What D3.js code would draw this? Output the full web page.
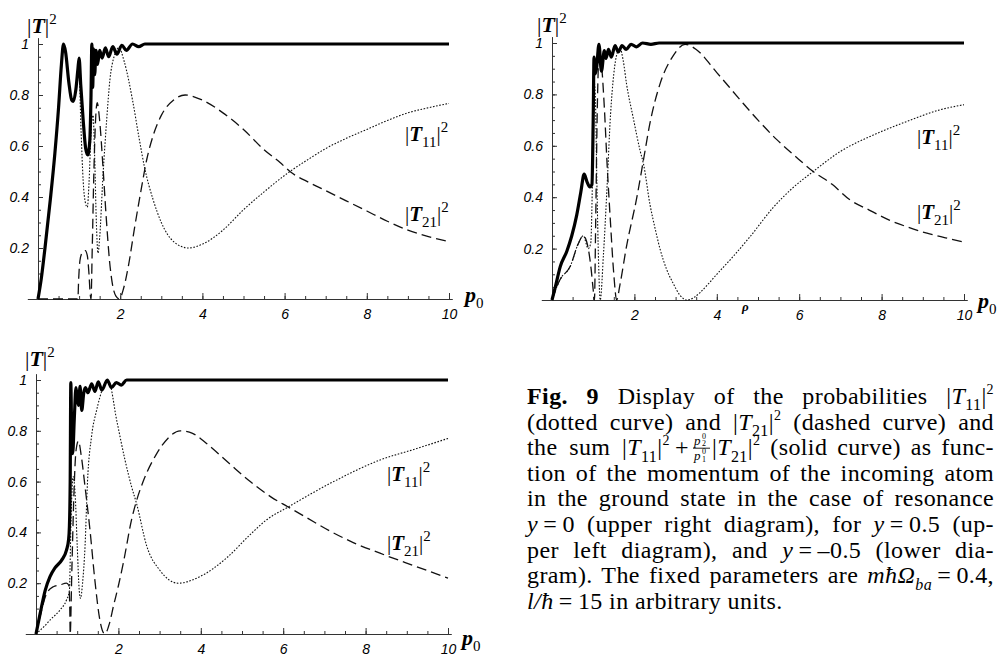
<!DOCTYPE html>
<html>
<head>
<meta charset="utf-8">
<script src="https://cdn.jsdelivr.net/npm/d3@7"></script>
<style>
html, body { margin:0; padding:0; background:#fff; }
svg { display:block; }
</style>
</head>
<body>
<svg id="fig" width="1001" height="656"></svg>
<script>

//**************************************************************************
//** Data ([p0, value] pairs)
//**************************************************************************

// upper left diagram, y = 0.5
var upperLeftSolid = [[0,0],[0.08,0.08],[0.17,0.2],[0.3,0.39],[0.41,0.57],[0.5,0.75],[0.57,0.92],[0.62,1.0],
    [0.67,0.97],[0.75,0.85],[0.82,0.78],[0.86,0.775],[0.92,0.82],[0.97,0.9],[1.0,0.945],[1.04,0.84],[1.1,0.7],
    [1.16,0.59],[1.21,0.565],[1.26,0.62],[1.29,0.8],[1.31,1.0],[1.33,0.83],[1.355,0.98],[1.38,0.88],[1.41,0.975],
    [1.45,0.92],[1.5,0.975],[1.56,0.945],[1.64,0.985],[1.72,0.95],[1.82,0.99],[1.92,0.96],[2.04,0.995],
    [2.15,0.975],[2.3,1.0],[2.45,0.99],[2.6,1.0],[10,1.0]];
var upperLeftDotted = [[0,0],[0.08,0.08],[0.17,0.2],[0.3,0.39],[0.41,0.57],[0.5,0.75],[0.57,0.92],[0.62,1.0],
    [0.67,0.97],[0.75,0.85],[0.82,0.78],[0.86,0.775],[0.92,0.82],[0.97,0.9],[1.0,0.88],[1.05,0.65],[1.1,0.46],
    [1.15,0.38],[1.2,0.36],[1.24,0.45],[1.29,0.65],[1.34,0.72],[1.38,0.55],[1.42,0.3],[1.46,0.18],[1.5,0.24],
    [1.58,0.48],[1.67,0.7],[1.75,0.86],[1.85,0.95],[1.97,0.985],[2.1,0.93],[2.3,0.78],[2.45,0.64],[2.6,0.51],
    [2.8,0.39],[3.0,0.3],[3.3,0.225],[3.66,0.2],[4.0,0.215],[4.5,0.27],[5.0,0.35],[5.5,0.42],[6.13,0.5],
    [6.6,0.55],[7.0,0.59],[7.5,0.63],[8.0,0.665],[8.5,0.7],[9.0,0.73],[9.5,0.75],[10,0.767]];
var upperLeftDashed = [[0,0],[0.97,0],[0.99,0.08],[1.02,0.15],[1.07,0.18],[1.15,0.19],[1.2,0.17],[1.24,0.1],
    [1.27,0.02],[1.29,0],[1.32,0.2],[1.36,0.5],[1.4,0.7],[1.44,0.77],[1.5,0.7],[1.58,0.52],[1.66,0.32],
    [1.74,0.15],[1.82,0.05],[1.9,0.01],[1.98,0],[2.08,0.04],[2.2,0.13],[2.35,0.28],[2.5,0.42],[2.65,0.55],
    [2.8,0.64],[3.0,0.72],[3.3,0.78],[3.58,0.8],[4.0,0.78],[4.5,0.73],[5.0,0.665],[5.5,0.585],[5.89,0.535],
    [6.13,0.5],[6.62,0.455],[7.0,0.425],[7.5,0.385],[8.0,0.345],[8.5,0.305],[9.0,0.27],[9.5,0.245],[10,0.225]];

// upper right diagram, y = 0
var upperRightSolid = [[0,0],[0.08,0.05],[0.2,0.13],[0.36,0.19],[0.48,0.25],[0.6,0.33],[0.7,0.42],[0.78,0.49],
    [0.85,0.46],[0.92,0.44],[0.97,0.45],[1.0,0.7],[1.02,0.945],[1.05,0.88],[1.08,0.9],[1.14,0.995],[1.2,0.89],
    [1.27,0.97],[1.31,0.94],[1.37,0.975],[1.44,0.945],[1.53,0.99],[1.61,0.965],[1.7,0.99],[1.8,0.975],
    [1.92,0.995],[2.05,0.985],[2.2,1.0],[2.4,0.995],[2.6,1.0],[10,1.0]];
var upperRightDotted = [[0,0],[0.19,0.078],[0.44,0.13],[0.64,0.22],[0.76,0.25],[0.88,0.2],[0.94,0.22],[0.98,0.45],
    [1.02,0.85],[1.05,0.8],[1.09,0.45],[1.13,0.15],[1.17,0],[1.25,0.18],[1.33,0.42],[1.42,0.72],[1.5,0.88],
    [1.58,0.96],[1.65,0.98],[1.73,0.93],[1.81,0.84],[1.97,0.71],[2.14,0.58],[2.22,0.53],[2.38,0.37],[2.5,0.28],
    [2.62,0.2],[2.78,0.12],[2.94,0.065],[3.1,0.02],[3.27,0],[3.45,0.01],[3.6,0.03],[4.0,0.1],[4.4,0.17],
    [4.8,0.245],[5.37,0.36],[5.8,0.43],[6.34,0.5],[6.99,0.577],[7.8,0.642],[8.6,0.694],[9.42,0.74],[10,0.76]];
var upperRightDashed = [[0,0],[0.19,0.078],[0.44,0.13],[0.64,0.22],[0.76,0.25],[0.88,0.2],[0.95,0.12],[1.0,0.04],
    [1.03,0],[1.06,0.3],[1.1,0.75],[1.15,0.97],[1.2,0.92],[1.27,0.75],[1.34,0.52],[1.42,0.3],[1.5,0.1],[1.57,0],
    [1.65,0.06],[1.81,0.21],[2.06,0.4],[2.22,0.545],[2.38,0.69],[2.62,0.84],[2.94,0.95],[3.23,0.995],[3.5,0.975],
    [4.0,0.885],[4.56,0.78],[5.0,0.7],[5.45,0.625],[5.9,0.56],[6.34,0.5],[6.8,0.45],[7.23,0.39],[7.7,0.35],
    [8.2,0.31],[8.65,0.283],[9.1,0.26],[9.55,0.242],[10,0.225]];

// lower diagram, y = -0.5
var lowerSolid = [[0,0],[0.1,0.08],[0.22,0.17],[0.34,0.226],[0.46,0.26],[0.62,0.29],[0.74,0.33],[0.79,0.37],
    [0.81,0.42],[0.83,0.6],[0.845,0.99],[0.865,0.8],[0.89,0.71],[0.93,0.85],[0.97,0.97],[1.0,0.93],[1.03,0.9],
    [1.07,0.975],[1.11,0.88],[1.16,0.95],[1.2,0.97],[1.26,0.95],[1.35,0.985],[1.43,0.955],[1.51,0.993],[1.6,0.96],
    [1.73,1.0],[1.83,0.97],[1.95,0.99],[2.07,0.98],[2.2,1.0],[10,1.0]];
var lowerDotted = [[0,0],[0.2,0.03],[0.34,0.055],[0.58,0.094],[0.74,0.134],[0.81,0.17],[0.85,0.45],[0.9,0.62],
    [0.95,0.55],[1.0,0.35],[1.05,0.17],[1.08,0.14],[1.13,0.2],[1.19,0.345],[1.25,0.6],[1.35,0.78],[1.47,0.88],
    [1.63,0.97],[1.76,0.995],[1.96,0.84],[2.16,0.685],[2.32,0.58],[2.44,0.514],[2.69,0.345],[3.01,0.25],
    [3.45,0.2],[3.98,0.226],[4.63,0.3],[5.19,0.39],[5.6,0.45],[6.12,0.5],[7.14,0.593],[8.35,0.685],[9.24,0.73],[10,0.77]];
var lowerDashed = [[0,0],[0.1,0.07],[0.26,0.16],[0.42,0.186],[0.58,0.193],[0.74,0.2],[0.8,0.19],[0.82,0.1],
    [0.83,0],[0.87,0.25],[0.92,0.55],[0.97,0.72],[1.03,0.76],[1.1,0.7],[1.19,0.58],[1.31,0.41],[1.43,0.21],
    [1.55,0.055],[1.67,0],[1.78,0.04],[1.88,0.11],[2.0,0.19],[2.12,0.28],[2.32,0.45],[2.45,0.53],[2.6,0.6],
    [2.93,0.71],[3.2,0.77],[3.5,0.8],[3.8,0.79],[4.14,0.75],[4.7,0.67],[5.2,0.6],[5.7,0.54],[6.12,0.5],[6.6,0.455],
    [7.14,0.405],[7.7,0.36],[8.35,0.318],[9.24,0.265],[10,0.22]];

// tick values
var xMajorTicks = [2,4,6,8,10];
var yMajorTicks = [0.2,0.4,0.6,0.8,1];


//**************************************************************************
//** Layout
//**************************************************************************
var panels = [
    {left:38, right:449, bottom:299, top:44, solid:upperLeftSolid, dotted:upperLeftDotted, dashed:upperLeftDashed,
     title:[27,33], axisLabel:[465,302], lab11:[405,141], lab21:[405,221]},
    {left:552, right:964, bottom:300, top:43, solid:upperRightSolid, dotted:upperRightDotted, dashed:upperRightDashed,
     title:[537,32], axisLabel:[978,308], lab11:[917,144], lab21:[917,219]},
    {left:36, right:448, bottom:634, top:380, solid:lowerSolid, dotted:lowerDotted, dashed:lowerDashed,
     title:[25,366], axisLabel:[462,645], lab11:[387,481], lab21:[387,550]}
];

var serif = "'Liberation Serif', 'Times New Roman', Times, serif";
var sans = "'Liberation Sans', Arial, sans-serif";

var svg = d3.select("#fig");


//**************************************************************************
//** richText
//**************************************************************************
/** Appends a text element made of runs ({t, i, b, sub, sup, size}) */
function richText(parent, x, y, runs, size, family){
    var text = parent.append("text")
        .attr("x", x).attr("y", y)
        .style("font-family", family || serif)
        .style("font-size", size + "px")
        .style("white-space", "pre")
        .attr("fill", "#000");
    var shift = 0;
    runs.forEach(function(r){
        var target = 0, fs = r.size || size;
        if (r.sub) { target = size*0.27; fs = r.size || size*0.7; }
        if (r.sup) { target = -size*0.42; fs = r.size || size*0.7; }
        var ts = text.append("tspan")
            .attr("dy", target - shift)
            .style("font-size", fs + "px")
            .text(r.t);
        if (r.i) ts.style("font-style", "italic");
        if (r.b) ts.style("font-weight", "bold");
        shift = target;
    });
    return text;
}

function justify(text, width){
    var node = text.node();
    var len = node.getComputedTextLength();
    var n = (node.textContent.match(/ /g) || []).length;
    if (n > 0) text.style("word-spacing", ((width - len)/n) + "px");
}


//**************************************************************************
//** drawPanel
//**************************************************************************
function drawPanel(cfg){
    var g = svg.append("g");

    var x = d3.scaleLinear().domain([0,10]).range([cfg.left, cfg.right]);
    var y = d3.scaleLinear().domain([0,1]).range([cfg.bottom, cfg.top]);

    var xa = x.copy().domain([-0.26, 10.08]).range([x(-0.26), x(10.08)]);
    var ya = y.copy().domain([0, 1.025]).range([y(0), y(1.025)]);

    //Minor ticks
    g.append("g")
        .attr("transform", "translate(0," + y(0) + ")")
        .attr("color", "#333")
        .call(d3.axisBottom(xa).tickValues(d3.range(0.5, 10.01, 0.5)).tickSize(-3).tickSizeOuter(0).tickFormat(""));
    g.append("g")
        .attr("transform", "translate(" + x(0) + ",0)")
        .attr("color", "#333")
        .call(d3.axisLeft(ya).tickValues(d3.range(0.05, 1.001, 0.05)).tickSize(-3).tickSizeOuter(0).tickFormat(""));

    //Major ticks and labels
    var xAxis = g.append("g")
        .attr("transform", "translate(0," + y(0) + ")")
        .attr("color", "#333")
        .call(d3.axisBottom(xa).tickValues(xMajorTicks).tickSize(-6).tickSizeOuter(0).tickPadding(10));
    var yAxis = g.append("g")
        .attr("transform", "translate(" + x(0) + ",0)")
        .attr("color", "#333")
        .call(d3.axisLeft(ya).tickValues(yMajorTicks).tickSize(-5).tickSizeOuter(0).tickPadding(9)
            .tickFormat(function(d){ return d === 1 ? "1" : d.toFixed(1); }));
    [xAxis, yAxis].forEach(function(a){
        a.select(".domain").remove();
        a.selectAll("text")
            .attr("fill", "#000")
            .style("font-family", sans)
            .style("font-style", "italic")
            .style("font-size", "14px");
    });

    //Curves
    var line = d3.line()
        .x(function(d){ return x(d[0]); })
        .y(function(d){ return y(d[1]); })
        .curve(d3.curveMonotoneX);

    g.append("path").datum(cfg.dotted)
        .attr("d", line).attr("fill", "none")
        .attr("stroke", "#111").attr("stroke-width", 1.1)
        .attr("stroke-dasharray", "1.6,1.6");
    g.append("path").datum(cfg.dashed)
        .attr("d", line).attr("fill", "none")
        .attr("stroke", "#111").attr("stroke-width", 1.3)
        .attr("stroke-dasharray", "10,5");
    g.append("path").datum(cfg.solid)
        .attr("d", line).attr("fill", "none")
        .attr("stroke", "#000").attr("stroke-width", 3.2)
        .attr("stroke-linejoin", "round");

    //Labels
    richText(g, cfg.title[0], cfg.title[1],
        [{t:"|"},{t:"T", i:1, b:1},{t:"|"},{t:"2", sup:1, size:15}], 22);
    richText(g, cfg.axisLabel[0], cfg.axisLabel[1],
        [{t:"p", i:1, b:1},{t:"0", sub:1, size:15}], 22);
    richText(g, cfg.lab11[0], cfg.lab11[1],
        [{t:"|"},{t:"T", i:1, b:1},{t:"11", sub:1, size:15},{t:"|"},{t:"2", sup:1, size:15}], 21);
    richText(g, cfg.lab21[0], cfg.lab21[1],
        [{t:"|"},{t:"T", i:1, b:1},{t:"21", sub:1, size:15},{t:"|"},{t:"2", sup:1, size:15}], 21);
}

panels.forEach(drawPanel);

// stray glyph of the scan below the upper right axis
svg.append("text").attr("x", 742).attr("y", 311)
    .style("font-family", serif).style("font-style", "italic").style("font-weight", "bold")
    .style("font-size", "13px").text("\u03c1");


//**************************************************************************
//** Caption
//**************************************************************************
var capX = 527, capRight = 994, capTop = 404, capStep = 25.6, capSize = 24;
var T11 = [{t:"T", i:1},{t:"11", sub:1, size:16},{t:"|"},{t:"2", sup:1, size:14}];
var T21 = [{t:"T", i:1},{t:"21", sub:1, size:16},{t:"|"},{t:"2", sup:1, size:14}];
var th = "\u2009";

var captionLines = [
    [{t:"Fig. 9", b:1},{t:" Display of the probabilities |"}].concat(T11),
    [{t:"(dotted curve) and |"}].concat(T21).concat([{t:" (dashed curve) and"}]),
    null,
    [{t:"tion of the momentum of the incoming atom"}],
    [{t:"in the ground state in the case of resonance"}],
    [{t:"y", i:1},{t:th+"="+th+"0 (upper right diagram), for "},{t:"y", i:1},{t:th+"="+th+"0.5 (up-"}],
    [{t:"per left diagram), and "},{t:"y", i:1},{t:th+"="+th+"\u20130.5 (lower dia-"}],
    [{t:"gram). The fixed parameters are "},{t:"m\u0127\u03a9", i:1},{t:"ba", i:1, sub:1, size:16},{t:th+"="+th+"0.4,"}]
];

var cap = svg.append("g").style("letter-spacing", "0.4px");
captionLines.forEach(function(runs, i){
    if (!runs) return;
    var t = richText(cap, capX, capTop + i*capStep, runs, capSize);
    justify(t, capRight - capX);
});

// third line with the fraction
var y3 = capTop + 2*capStep;
var left3 = richText(cap, capX, y3, [{t:"the sum |"}].concat(T11).concat([{t:th+"+"}]), capSize);
justify(left3, 689 - capX);
cap.append("line").attr("x1", 693).attr("x2", 710).attr("y1", y3 - 7).attr("y2", y3 - 7)
    .attr("stroke", "#000").attr("stroke-width", 0.9);
richText(cap, 694, y3 - 10, [{t:"p", i:1}], 13);
richText(cap, 702, y3 - 16, [{t:"0"}], 8);
richText(cap, 702, y3 - 9, [{t:"2"}], 8);
richText(cap, 694, y3 + 5, [{t:"p", i:1}], 13);
richText(cap, 702, y3 - 1, [{t:"0"}], 8);
richText(cap, 702, y3 + 7, [{t:"1"}], 8);
var right3 = richText(cap, 712, y3, [{t:"|"}].concat(T21).concat([{t:" (solid curve) as func-"}]), capSize);
justify(right3, capRight - 712);

// last line, not justified
richText(cap, capX, capTop + 8*capStep,
    [{t:"l/\u0127", i:1},{t:th+"="+th+"15 in arbitrary units."}], capSize);

</script>
</body>
</html>
